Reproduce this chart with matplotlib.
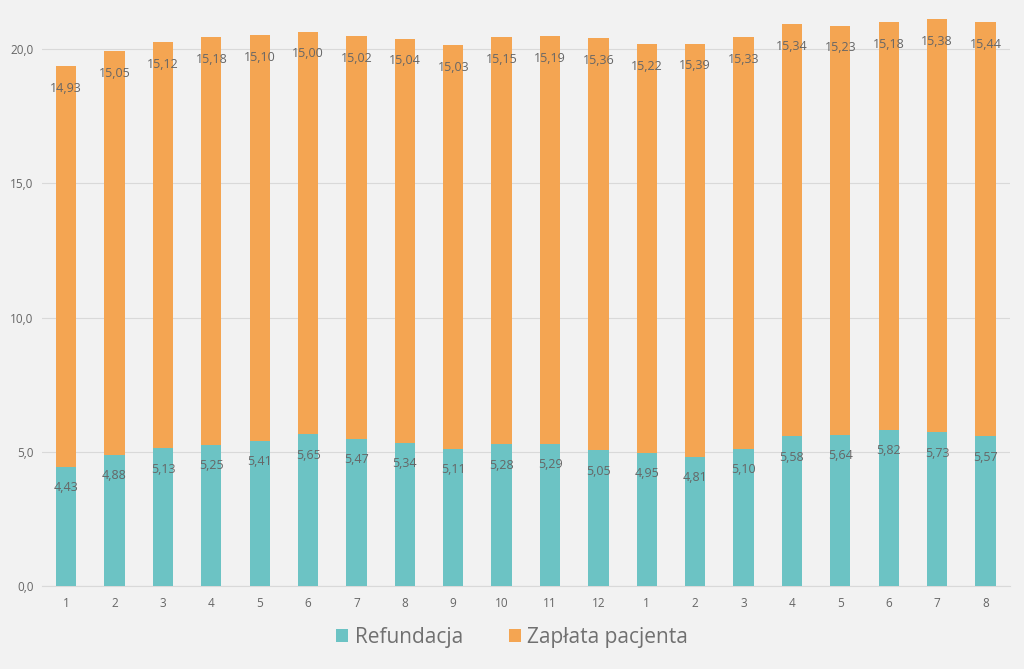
import matplotlib
matplotlib.use("Agg")
import matplotlib.pyplot as plt
import numpy as np

categories = ['1', '2', '3', '4', '5', '6', '7', '8', '9', '10', '11', '12',
              '1', '2', '3', '4', '5', '6', '7', '8']
refundacja = [4.43, 4.88, 5.13, 5.25, 5.41, 5.65, 5.47, 5.34, 5.11, 5.28, 5.29, 5.05,
              4.95, 4.81, 5.10, 5.58, 5.64, 5.82, 5.73, 5.57]
zaplata = [14.93, 15.05, 15.12, 15.18, 15.10, 15.00, 15.02, 15.04, 15.03, 15.15, 15.19, 15.36,
           15.22, 15.39, 15.33, 15.34, 15.23, 15.18, 15.38, 15.44]
yticks = [0, 5, 10, 15, 20]

teal = '#6CC3C4'
orange = '#F4A552'
bg = '#F2F2F2'
txt = '#666666'

plt.rcParams['font.family'] = ['Open Sans', 'DejaVu Sans']

fig = plt.figure(figsize=(10.24, 6.69), dpi=100, facecolor=bg)
ax = fig.add_axes([0.041, 0.124, 0.945, 0.855], facecolor=bg)

x = np.arange(len(categories))
ax.bar(x, refundacja, width=0.42, color=teal, label='Refundacja', zorder=3)
ax.bar(x, zaplata, width=0.42, bottom=refundacja, color=orange, label='Zapłata pacjenta', zorder=3)

# labels sit a little below the top of each segment
for i in range(len(x)):
    ax.annotate(f'{refundacja[i]:.2f}'.replace('.', ','), (x[i], refundacja[i]),
                xytext=(0, -15), textcoords='offset points', ha='center', va='center',
                color=txt, fontsize=9, zorder=4)
    top = refundacja[i] + zaplata[i]
    ax.annotate(f'{zaplata[i]:.2f}'.replace('.', ','), (x[i], top),
                xytext=(0, -16), textcoords='offset points', ha='center', va='center',
                color=txt, fontsize=9, zorder=4)

ax.set_xlim(-0.5, len(x) - 0.5)
ax.set_ylim(0, 21.3)
ax.set_yticks(yticks)
ax.set_yticklabels([f'{v:.1f}'.replace('.', ',') for v in yticks])
ax.set_xticks(x)
ax.set_xticklabels(categories)
ax.tick_params(colors=txt, labelsize=8.5, length=0)
ax.tick_params(axis='x', pad=8)
ax.tick_params(axis='y', pad=6)
ax.grid(axis='y', color='#D9D9D9', linewidth=0.8, zorder=0)
for s in ['top', 'right', 'left']:
    ax.spines[s].set_visible(False)
ax.spines['bottom'].set_color('#D9D9D9')

leg = fig.legend(loc='center', bbox_to_anchor=(0.5, 0.047), ncol=2, frameon=False,
                 fontsize=15, handlelength=0.6, handleheight=0.6, handletextpad=0.3,
                 columnspacing=2.2)
for t in leg.get_texts():
    t.set_color('#707070')

fig.savefig('out.png', dpi=100, facecolor=bg)
